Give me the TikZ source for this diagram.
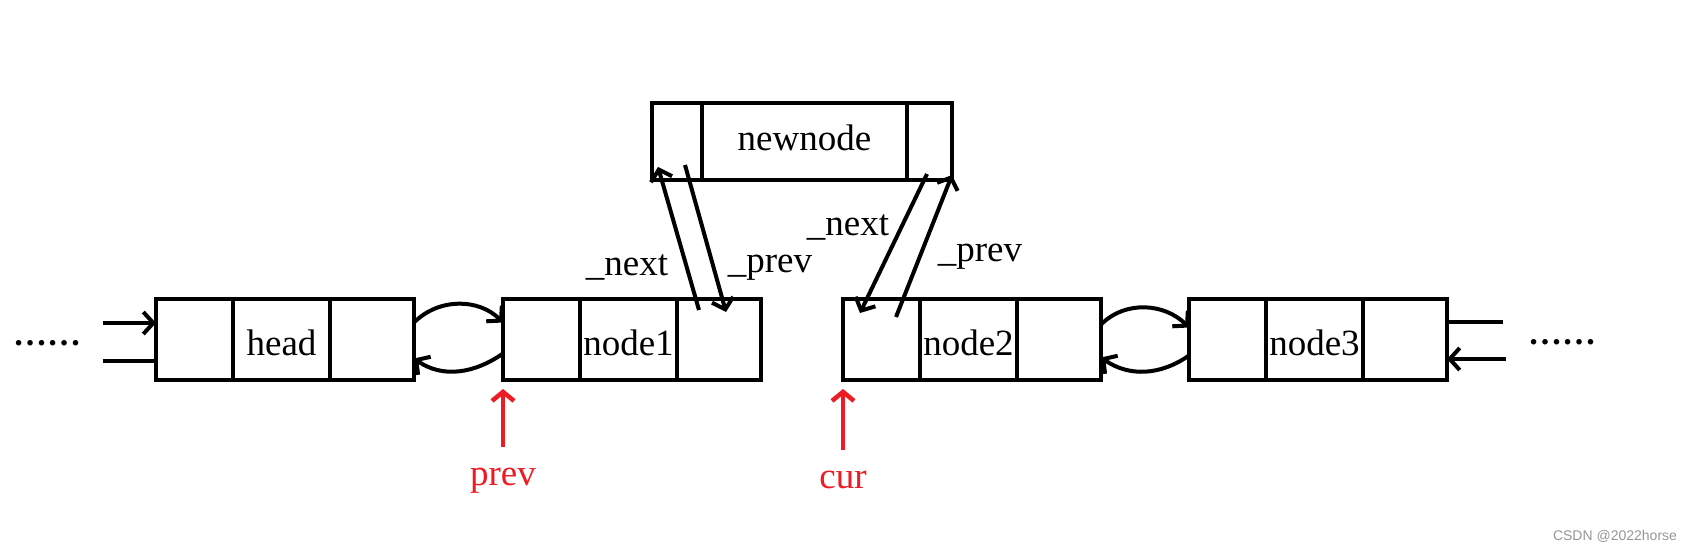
\documentclass[tikz,border=0pt]{standalone}
\usepackage{fontspec}
\setmainfont{Liberation Serif}
\newfontfamily\markfont{Liberation Sans}
\usetikzlibrary{positioning,arrows.meta}
\definecolor{paintred}{RGB}{237,28,36}
\definecolor{markgray}{RGB}{150,150,150}
\tikzset{
    cell/.style={draw, line width=4.5pt, minimum height=81pt, inner sep=0pt, outer sep=0pt, font=\fontsize{37pt}{40pt}\selectfont},
    lcell/.style={cell, minimum width=77pt},
    mcell/.style={cell, minimum width=97pt, text height=31pt, text depth=0pt},
    rcell/.style={cell, minimum width=84pt},
    wcell/.style={cell, minimum height=77pt},
    link/.style={line width=4pt, -{Straight Barb[length=10pt,width=22pt]}},
    plain/.style={line width=4.5pt},
    ptr/.style={draw=paintred, line width=4.5pt, -{Straight Barb[length=9pt,width=22pt]}},
    lbl/.style={inner sep=0pt, font=\fontsize{37pt}{40pt}\selectfont},
    ptrlbl/.style={lbl, text=paintred},
    dots/.style={inner sep=0pt, font=\bfseries\fontsize{34pt}{40pt}\selectfont},
}
\begin{document}
\begin{tikzpicture}[x=1pt, y=-1pt]
            \useasboundingbox (0,0) rectangle (1694,551);

            \node[lcell, anchor=north west] (h1) at (156,299) {};
            \node[mcell, right=0pt of h1] (h2) {head};
            \node[rcell, right=0pt of h2] (h3) {};

            \node[lcell, anchor=north west] (n1a) at (503,299) {};
            \node[mcell, right=0pt of n1a] (n1b) {node1};
            \node[rcell, right=0pt of n1b] (n1c) {};

            \node[lcell, anchor=north west] (n2a) at (843,299) {};
            \node[mcell, right=0pt of n2a] (n2b) {node2};
            \node[rcell, right=0pt of n2b] (n2c) {};

            \node[lcell, anchor=north west] (n3a) at (1189,299) {};
            \node[mcell, right=0pt of n3a] (n3b) {node3};
            \node[rcell, right=0pt of n3b] (n3c) {};

            \node[wcell, minimum width=50pt, anchor=north west] (w1) at (652,103) {};
            \node[wcell, minimum width=205pt, text height=17pt, text depth=0pt, right=0pt of w1] (w2) {newnode};
            \node[wcell, minimum width=45pt, right=0pt of w2] (w3) {};

            \node[dots] (dotsL) at (47,343) {……};
            \node[dots] (dotsR) at (1562,342) {……};

            \coordinate (inL) at (103,323);
            \coordinate (outL) at (103,361);
            \draw[link] (inL) -- (inL -| h1.west);
            \draw[plain] (h1.west |- outL) -- (outL);

            \coordinate (outR) at (1503,322);
            \coordinate (inR) at (1506,359);
            \draw[plain] (n3c.east |- outR) -- (outR);
            \draw[link] (inR) -- (inR -| n3c.east);

            \draw[link] ([yshift=17pt]h3.east) to[out=45,in=135] ([yshift=17pt]n1a.west);
            \draw[link] ([yshift=-14pt]n1a.west) to[out=-145,in=-35] ([yshift=-19pt]h3.east);
            \draw[link] ([yshift=15pt]n2c.east) to[out=45,in=135] ([yshift=12pt]n3a.west);
            \draw[link] ([yshift=-16pt]n3a.west) to[out=-145,in=-35] ([yshift=-18pt]n2c.east);

            \draw[link] ([xshift=22pt,yshift=-11pt]n1c.north west) -- ([xshift=6pt,yshift=13pt]w1.south west);
            \draw[link] ([xshift=33pt,yshift=15pt]w1.south west) -- ([xshift=49pt,yshift=-13pt]n1c.north west);
            \draw[link] ([xshift=20pt,yshift=6pt]w3.south west) -- ([xshift=17pt,yshift=-14pt]n2a.north west);
            \draw[link] ([xshift=53pt,yshift=-18pt]n2a.north west) -- ([xshift=45pt,yshift=5pt]w3.south west);

            \node[lbl] (next1) at (627,267) {\_next};
            \node[lbl] (prev1) at (770,268) {\_prev};
            \node[lbl] (next2) at (848,227) {\_next};
            \node[lbl] (prev2) at (980,257) {\_prev};

            \node[ptrlbl] (prevlbl) at (503,481) {prev};
            \node[ptrlbl] (curlbl) at (843,480) {cur};
            \draw[ptr] ([yshift=21pt]prevlbl.north) -- ([yshift=-9pt]n1a.south west);
            \draw[ptr] ([yshift=21pt]curlbl.north) -- ([yshift=-9pt]n2a.south west);

            \node[text=markgray, font=\markfont\fontsize{14pt}{16pt}\selectfont] (mark) at (1615,536) {CSDN @2022horse};
        \end{tikzpicture}
\end{document}
